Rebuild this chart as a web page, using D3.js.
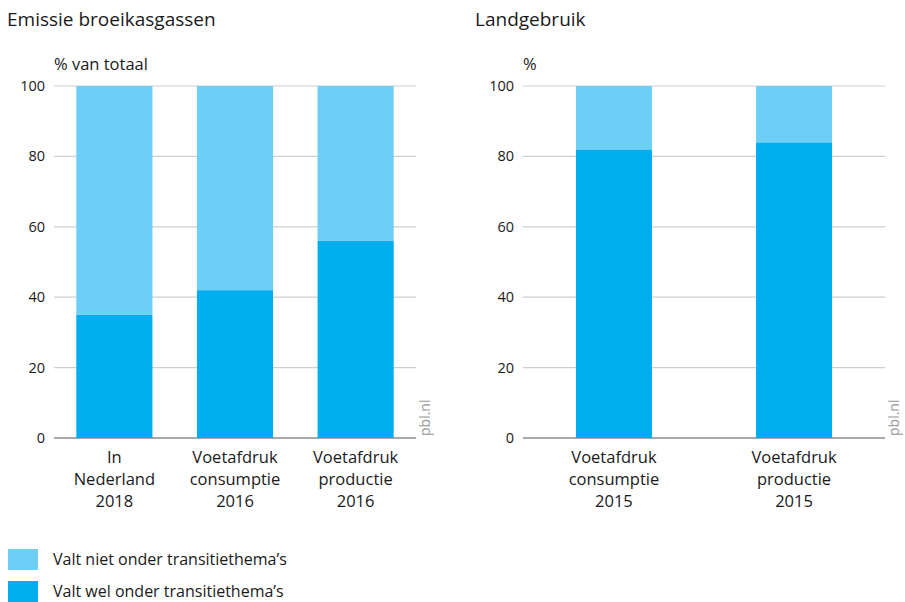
<!DOCTYPE html>
<html>
<head>
<meta charset="utf-8">
<script src="https://cdn.jsdelivr.net/npm/d3@7"></script>
<style>
  html, body { margin: 0; padding: 0; background: #fff; }
  svg { display: block; font-family: "Open Sans", "Noto Sans", sans-serif; }
</style>
</head>
<body>
<svg id="chart" width="905" height="602"></svg>
<script>
// Emissions panel
const emisCategories = [["In", "Nederland", "2018"], ["Voetafdruk", "consumptie", "2016"], ["Voetafdruk", "productie", "2016"]];
const emisWel = [35, 42, 56];
const emisNiet = [65, 58, 44];

// Land use panel
const landCategories = [["Voetafdruk", "consumptie", "2015"], ["Voetafdruk", "productie", "2015"]];
const landWel = [82, 84];
const landNiet = [18, 16];

const yTicks = [0, 20, 40, 60, 80, 100];
const seriesNames = ["Valt niet onder transitiethema’s", "Valt wel onder transitiethema’s"];
const colNiet = "#6dcff6", colWel = "#00aeef";

const svg = d3.select("#chart");
const y = d3.scaleLinear().domain([0, 100]).range([438, 86]);

function panel(opts) {
  const g = svg.append("g");
  const x = d3.scaleBand()
    .domain(opts.cats.map((d, i) => i))
    .range([opts.x0, opts.x1])
    .paddingInner(opts.padIn)
    .paddingOuter(opts.padOut);

  // title and unit
  g.append("text").attr("x", opts.titleX).attr("y", 26)
    .attr("font-size", 19).attr("fill", "#1a1a1a").text(opts.title);
  g.append("text").attr("x", opts.x0).attr("y", 70)
    .attr("font-size", 16.5).attr("fill", "#1a1a1a").text(opts.unit);

  // gridlines
  g.selectAll(".grid").data(yTicks).join("line")
    .attr("x1", opts.x0).attr("x2", opts.x1)
    .attr("y1", d => y(d)).attr("y2", d => y(d))
    .attr("stroke", d => d === 0 ? "#8c8c8c" : "#cfcfcf")
    .attr("stroke-width", d => d === 0 ? 1.5 : 1.2);

  // y tick labels
  g.selectAll(".yt").data(yTicks).join("text")
    .attr("x", opts.x0 - 9).attr("y", d => y(d) + 5)
    .attr("text-anchor", "end").attr("font-size", 14.5).attr("fill", "#1a1a1a")
    .text(d => d);

  // stacked bars
  const stack = opts.wel.map((w, i) => ({ i, wel: w, niet: opts.niet[i] }));
  g.selectAll(".wel").data(stack).join("rect")
    .attr("x", d => x(d.i)).attr("width", x.bandwidth())
    .attr("y", d => y(d.wel)).attr("height", d => y(0) - y(d.wel))
    .attr("fill", colWel);
  g.selectAll(".niet").data(stack).join("rect")
    .attr("x", d => x(d.i)).attr("width", x.bandwidth())
    .attr("y", d => y(d.wel + d.niet)).attr("height", d => y(d.wel) - y(d.wel + d.niet))
    .attr("fill", colNiet);

  // category labels
  const lab = g.selectAll(".xl").data(opts.cats).join("text")
    .attr("text-anchor", "middle").attr("font-size", 16.5).attr("fill", "#1a1a1a");
  lab.each(function (lines, i) {
    const t = d3.select(this);
    lines.forEach((l, k) => {
      t.append("tspan").attr("x", x(i) + x.bandwidth() / 2).attr("y", 463 + k * 22).text(l);
    });
  });

  // source tag
  g.append("text")
    .attr("transform", `translate(${opts.x1 + 14},436) rotate(-90)`)
    .attr("font-size", 14).attr("fill", "#999").text("pbl.nl");
}

panel({ title: "Emissie broeikasgassen", titleX: 7, unit: "% van totaal",
  cats: emisCategories, wel: emisWel, niet: emisNiet,
  x0: 54, x1: 416, padIn: 0.369, padOut: 0.185 });

panel({ title: "Landgebruik", titleX: 475, unit: "%",
  cats: landCategories, wel: landWel, niet: landNiet,
  x0: 523, x1: 885, padIn: 0.578, padOut: 0.294 });

// legend
const leg = svg.append("g");
const legY = [549, 581];
[colNiet, colWel].forEach((c, i) => {
  leg.append("rect").attr("x", 8).attr("y", legY[i]).attr("width", 30).attr("height", 21).attr("fill", c);
  leg.append("text").attr("x", 53).attr("y", legY[i] + 15.5).attr("font-size", 16)
    .attr("fill", "#1a1a1a").text(seriesNames[i]);
});
</script>
</body>
</html>
